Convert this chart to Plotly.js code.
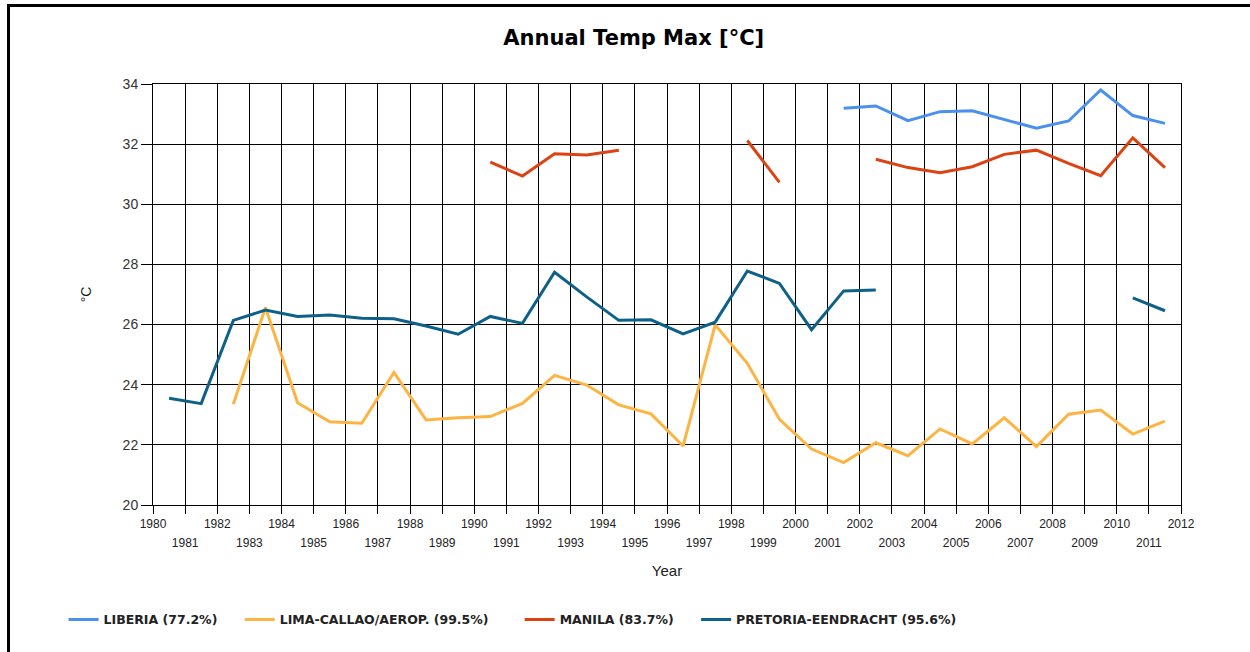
<!DOCTYPE html>
<html>
<head>
<meta charset="utf-8">
<script src="https://cdn.plot.ly/plotly-3.0.1.min.js"></script>
<style>
  html, body { margin: 0; padding: 0; background: #fff; }
  #wrap { position: relative; width: 1250px; height: 652px; overflow: hidden; }
  #chart { position: absolute; left: 0; top: 0; width: 1250px; height: 652px; }
  #frame { position: absolute; left: 7px; top: 4px; width: 1250px; height: 660px;
           border-top: 3px solid #000; border-left: 3px solid #000; pointer-events: none; }
</style>
</head>
<body>
<div id="wrap">
  <div id="chart"></div>
  <div id="frame"></div>
</div>
<script>
// Years of the annual values (each plotted at mid-year)
const years = [1980,1981,1982,1983,1984,1985,1986,1987,1988,1989,1990,1991,1992,1993,1994,1995,
               1996,1997,1998,1999,2000,2001,2002,2003,2004,2005,2006,2007,2008,2009,2010,2011];

const liberia = [null,null,null,null,null,null,null,null,null,null,null,null,null,null,null,null,
                 null,null,null,null,null,33.19,33.27,32.78,33.08,33.11,32.83,32.53,32.77,33.80,32.95,32.69];

const lima = [null,null,23.35,26.57,23.40,22.77,22.72,24.41,22.83,22.90,22.94,23.38,24.31,23.99,23.33,23.03,
              21.96,25.99,24.71,22.85,21.86,21.41,22.07,21.64,22.53,22.03,22.90,21.94,23.02,23.16,22.36,22.79];

const manila = [null,null,null,null,null,null,null,null,null,null,31.40,30.94,31.68,31.64,31.80,null,
                null,null,32.12,30.73,null,null,31.50,31.22,31.05,31.25,31.66,31.80,31.36,30.95,32.21,31.22];

const pretoria = [23.55,23.37,26.14,26.48,26.27,26.32,26.21,26.19,25.95,25.68,26.27,26.04,27.74,26.92,26.14,26.16,
                  25.69,26.08,27.78,27.37,25.83,27.12,27.15,null,null,null,null,null,null,null,26.89,26.46];

const seriesNames = ['LIBERIA (77.2%)', 'LIMA-CALLAO/AEROP. (99.5%)', 'MANILA (83.7%)', 'PRETORIA-EENDRACHT (95.6%)'];

// Axis tick labels (even years on the first row, odd years on the second row)
const evenTickLabels = ['1980','1982','1984','1986','1988','1990','1992','1994','1996','1998','2000',
                        '2002','2004','2006','2008','2010','2012'];
const oddTickLabels = ['1981','1983','1985','1987','1989','1991','1993','1995','1997','1999',
                       '2001','2003','2005','2007','2009','2011'];
const yTickValues = [20,22,24,26,28,30,32,34];

const colors = ['#4A90EC', '#FDB443', '#DC4212', '#0D6189'];
const legendPad = [4, 6, 4, 0];   // spacing after each legend entry (non-breaking spaces)

const xMid = years.map(y => y + 0.5);
const allData = [liberia, lima, manila, pretoria];

const traces = allData.map((vals, i) => ({
  type: 'scatter',
  mode: 'lines',
  x: xMid,
  y: vals,
  name: seriesNames[i] + '\u00a0'.repeat(legendPad[i]),
  connectgaps: false,
  line: { color: colors[i], width: 3 },
  xaxis: 'x',
  yaxis: 'y'
}));

// Invisible trace on the second x axis for the odd-year label row
traces.push({
  type: 'scatter', mode: 'lines', x: [1980, 2012], y: [null, null],
  xaxis: 'x2', yaxis: 'y', showlegend: false, hoverinfo: 'skip'
});

const evenVals = evenTickLabels.map(Number);
const oddVals = oddTickLabels.map(Number);
const allTickVals = evenVals.concat(oddVals).sort((a, b) => a - b);
const allTickText = allTickVals.map(v => (evenTickLabels.indexOf(String(v)) >= 0 ? String(v) : ''));

const axisFont = { family: 'Liberation Sans, Arial, sans-serif', size: 12, color: '#222' };

const layout = {
  width: 1250,
  height: 652,
  paper_bgcolor: 'rgba(0,0,0,0)',
  plot_bgcolor: '#fff',
  margin: { l: 153, r: 69, t: 84, b: 147, autoexpand: false },
  title: {
    text: 'Annual Temp Max [°C]',
    font: { family: 'DejaVu Sans, sans-serif', size: 21, color: '#000', weight: 'bold' },
    x: 0.507, xanchor: 'center', xref: 'container',
    y: 0.942, yanchor: 'middle', yref: 'container'
  },
  xaxis: {
    range: [1980, 2012],
    tickmode: 'array',
    tickvals: allTickVals,
    ticktext: allTickText,
    ticks: 'outside', ticklen: 8, tickwidth: 1, tickcolor: '#000',
    showgrid: true, gridcolor: '#000', gridwidth: 1,
    showline: true, linecolor: '#000', linewidth: 1, mirror: true,
    zeroline: false,
    tickfont: axisFont,
    title: { text: 'Year', font: { family: 'Liberation Sans, Arial, sans-serif', size: 15, color: '#222' }, standoff: 35 },
    fixedrange: true
  },
  xaxis2: {
    overlaying: 'x', anchor: 'y', side: 'bottom',
    range: [1980, 2012],
    tickmode: 'array',
    tickvals: oddVals,
    ticktext: oddTickLabels,
    ticks: '', showgrid: false, showline: false, zeroline: false,
    ticklabelstandoff: 29,
    tickfont: axisFont,
    fixedrange: true
  },
  yaxis: {
    range: [20, 34],
    tickmode: 'array',
    tickvals: yTickValues,
    ticks: 'outside', ticklen: 11, tickwidth: 1, tickcolor: '#000',
    showgrid: true, gridcolor: '#000', gridwidth: 1,
    showline: true, linecolor: '#000', linewidth: 1, mirror: true,
    zeroline: false,
    tickfont: { family: 'Liberation Sans, Arial, sans-serif', size: 14, color: '#333' },
    title: { text: '°C', font: { family: 'Liberation Sans, Arial, sans-serif', size: 14, color: '#222' }, standoff: 27 },
    fixedrange: true
  },
  showlegend: true,
  legend: {
    orientation: 'h',
    x: -0.087, xanchor: 'left',
    y: -0.273, yanchor: 'middle',
    font: { family: 'DejaVu Sans, sans-serif', size: 12.5, color: '#222', weight: 'bold' },
    bgcolor: 'rgba(0,0,0,0)',
    itemclick: false, itemdoubleclick: false
  }
};

Plotly.newPlot('chart', traces, layout, { displayModeBar: false, staticPlot: true });
</script>
</body>
</html>
